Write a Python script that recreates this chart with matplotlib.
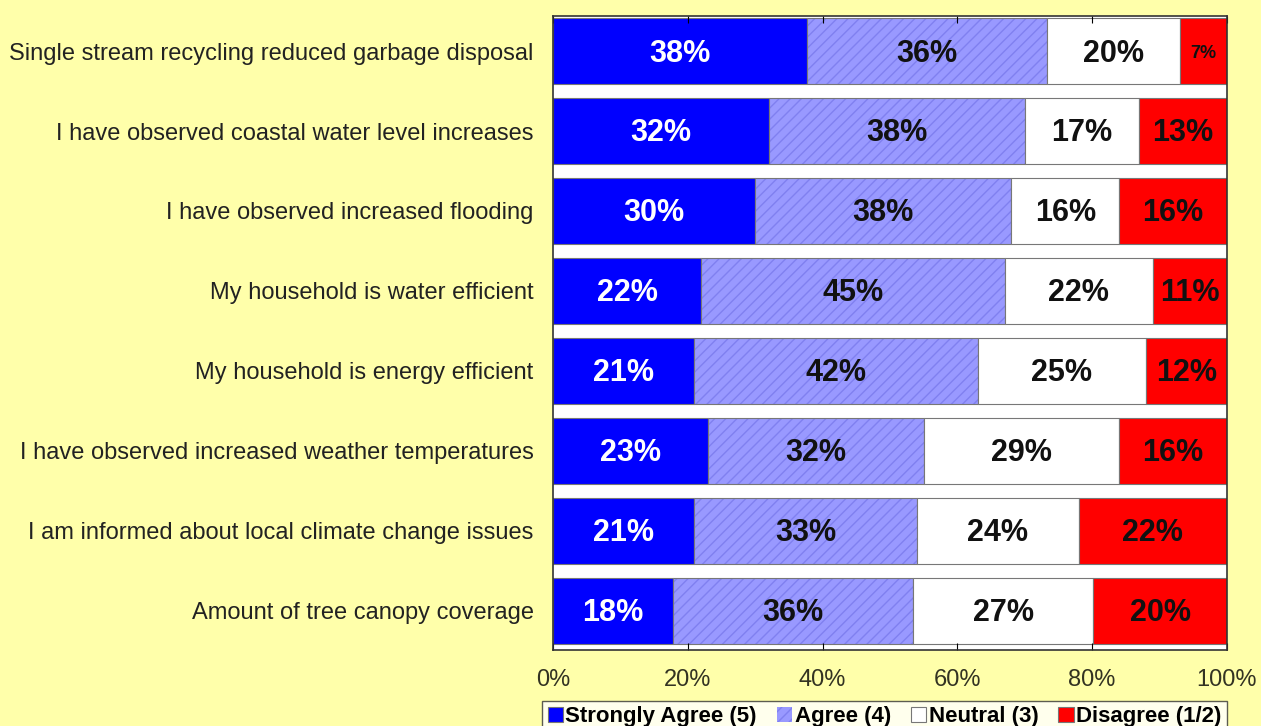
import numpy as np
import matplotlib.pyplot as plt

plt.rcParams['font.family'] = ['Liberation Sans', 'DejaVu Sans']

statements = ['Single stream recycling reduced garbage disposal',
              'I have observed coastal water level increases',
              'I have observed increased flooding',
              'My household is water efficient',
              'My household is energy efficient',
              'I have observed increased weather temperatures',
              'I am informed about local climate change issues',
              'Amount of tree canopy coverage']
strongly_agree = [38, 32, 30, 22, 21, 23, 21, 18]
agree = [36, 38, 38, 45, 42, 32, 33, 36]
neutral = [20, 17, 16, 22, 25, 29, 24, 27]
disagree = [7, 13, 16, 11, 12, 16, 22, 20]
series_names = ['Strongly Agree (5)', 'Agree (4)', 'Neutral (3)', 'Disagree (1/2)']
xticks = [0, 20, 40, 60, 80, 100]

colors = ['#0000FF', '#9999FF', '#FFFFFF', '#FF0000']
txtcol = ['white', '#111111', '#111111', '#111111']
bg = '#FFFFAA'

data = np.array([strongly_agree, agree, neutral, disagree], dtype=float)
totals = data.sum(axis=0)
shares = data / totals * 100

fig = plt.figure(figsize=(12.61, 7.26), dpi=100, facecolor=bg)
ax = fig.add_axes([0.4385, 0.105, 0.5345, 0.873])
ax.set_facecolor('white')

y = np.arange(len(statements))
left = np.zeros(len(statements))
handles = []
for i in range(4):
    if i == 1:
        b = ax.barh(y, shares[i], left=left, height=0.825, color=colors[i],
                    edgecolor='#8080F0', linewidth=0, hatch='///')
        ax.barh(y, shares[i], left=left, height=0.825, color='none',
                edgecolor='#777777', linewidth=0.8)
    else:
        b = ax.barh(y, shares[i], left=left, height=0.825, color=colors[i],
                    edgecolor='#777777', linewidth=0.8)
    handles.append(b)
    for j in range(len(statements)):
        fs = 13 if data[i, j] < 10 else 22
        ax.text(left[j] + shares[i, j] / 2, y[j] + 0.03, '%d%%' % data[i, j],
                ha='center', va='center', fontsize=fs, fontweight='bold',
                color=txtcol[i])
    left = left + shares[i]

ax.set_xlim(0, 100)
ax.set_ylim(7.49, -0.44)
ax.set_yticks(y)
ax.set_yticklabels(statements, fontsize=17, color='#222222')
ax.set_xticks(xticks)
ax.set_xticklabels(['%d%%' % t for t in xticks], fontsize=17, color='#333322')
ax.tick_params(axis='y', length=0, pad=14)
ax.tick_params(axis='x', direction='in', top=True, length=5, pad=14)
for s in ax.spines.values():
    s.set_color('#333333')
    s.set_linewidth(1.2)

leg = fig.legend(handles, series_names, loc='lower center', ncol=4,
                 bbox_to_anchor=(0.7015, -0.025), frameon=True, fancybox=False,
                 edgecolor='#333333', handlelength=0.7, handleheight=0.7,
                 handletextpad=0.1, columnspacing=0.9, borderpad=0.25,
                 prop={'size': 16, 'weight': 'bold'})
leg.get_frame().set_linewidth(1.0)

fig.savefig('out.png', dpi=100, facecolor=bg)
